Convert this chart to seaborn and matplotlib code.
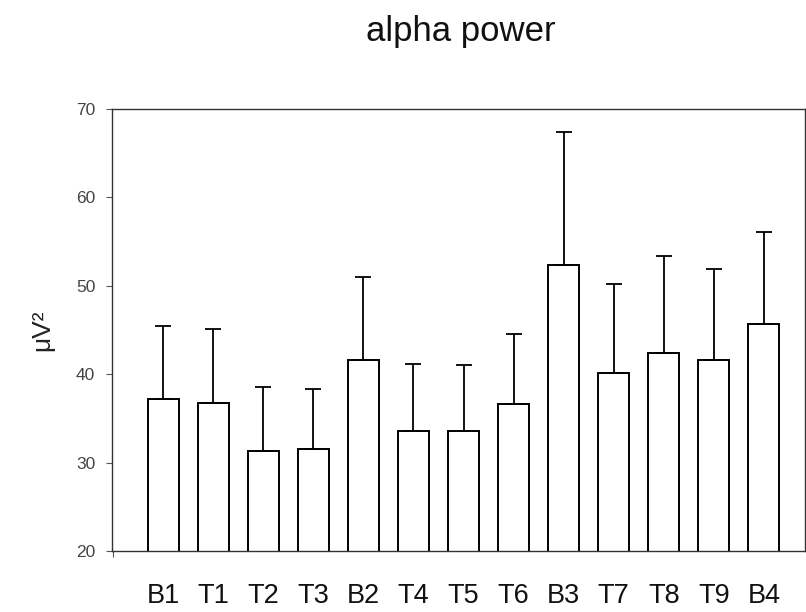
import numpy as np
import pandas as pd
import matplotlib
matplotlib.use("Agg")
import matplotlib.pyplot as plt
import seaborn as sns

# ---- data ----
conditions = ["B1", "T1", "T2", "T3", "B2", "T4", "T5", "T6", "B3", "T7", "T8", "T9", "B4"]
mean_power = [37.2, 36.7, 31.3, 31.5, 41.6, 33.6, 33.6, 36.6, 52.4, 40.1, 42.4, 41.6, 45.7]
error_up = [8.3, 8.4, 7.3, 6.8, 9.4, 7.6, 7.4, 7.9, 15.0, 10.1, 11.0, 10.3, 10.4]
y_ticks = [20, 30, 40, 50, 60, 70]

sns.set_style("ticks")
plt.rcParams["font.family"] = ["Liberation Sans", "DejaVu Sans"]

df = pd.DataFrame({"condition": conditions, "power": mean_power})

fig = plt.figure(figsize=(8.06, 6.12), dpi=100)
ax = fig.add_axes([112 / 806, 1 - 551 / 612, 693 / 806, (551 - 109) / 612])

sns.barplot(data=df, x="condition", y="power", order=conditions, color="white",
            saturation=1, edgecolor="black", linewidth=1.4, width=0.62,
            errorbar=None, ax=ax, zorder=2)

xpos = np.arange(len(conditions))
ax.errorbar(xpos, mean_power, yerr=[np.zeros(len(error_up)), error_up],
            fmt="none", ecolor="black", elinewidth=1.3, capsize=5.5,
            capthick=1.3, zorder=3)

ax.set_ylim(20, 70)
ax.set_xlim(-1.02, 12.82)
ax.set_yticks(y_ticks)
ax.set_yticklabels([str(t) for t in y_ticks], fontsize=12.5, color="#444444")

ax.set_xlabel("")
ax.tick_params(axis="x", which="major", length=0, pad=23, labelsize=19.5,
               labelcolor="#111111")
ax.set_xticks(np.arange(-1, 13, 2), minor=True)
ax.tick_params(axis="x", which="minor", length=4, width=0.8, color="#555555",
               direction="out")
ax.tick_params(axis="y", which="major", length=4, width=0.8, color="#555555",
               direction="out", pad=8)

for side in ["left", "right", "top", "bottom"]:
    ax.spines[side].set_visible(True)
    ax.spines[side].set_color("#333333")
    ax.spines[side].set_linewidth(1.0)

ax.set_ylabel("μV²", fontsize=19, color="#222222", va="center")
ax.yaxis.set_label_coords(-0.101, 0.5)

fig.text(461 / 806, 1 - 32 / 612, "alpha power", ha="center", va="center",
         fontsize=25, color="#111111")

fig.savefig("out.png", dpi=100, facecolor="white")
